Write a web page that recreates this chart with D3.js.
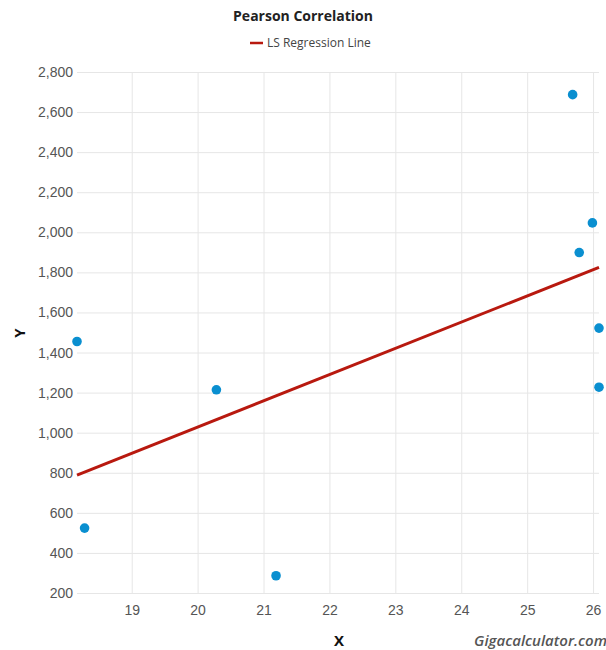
<!DOCTYPE html>
<html><head><meta charset="utf-8">
<script src="https://cdn.jsdelivr.net/npm/d3@7"></script>
<style>body{margin:0;background:#fff}</style>
</head><body>
<svg id="c" width="606" height="650"></svg>
<script>
const xValues = [18.17, 18.285, 20.285, 21.19, 25.69, 25.99, 25.79, 26.09, 26.09];
const yValues = [1455, 524, 1214, 286, 2687, 2047, 1899, 1522, 1227];
const xTicks = [19, 20, 21, 22, 23, 24, 25, 26];
const yTicks = [200, 400, 600, 800, 1000, 1200, 1400, 1600, 1800, 2000, 2200, 2400, 2600, 2800];

const svg = d3.select("#c");
const L = 77, R = 599, T = 72, B = 593;
const x = d3.scaleLinear().domain(d3.extent(xValues)).range([L, R]);
const y = d3.scaleLinear().domain([200, 2800]).range([B, T]);

// grid
const gy = svg.append("g").attr("transform", `translate(${L},0)`)
  .call(d3.axisLeft(y).tickValues(yTicks).tickSize(-(R - L)).tickPadding(4).tickFormat(d3.format(",")));
gy.select(".domain").remove();
gy.selectAll(".tick line").attr("stroke", "#e6e6e6");
gy.selectAll(".tick text").attr("font-family", "Liberation Sans, Arial, sans-serif").attr("font-size", 14).attr("fill", "#555");

const gx = svg.append("g").attr("transform", `translate(0,${B})`)
  .call(d3.axisBottom(x).tickValues(xTicks).tickSize(-(B - T)).tickPadding(12).tickFormat(d3.format("d")));
gx.select(".domain").remove();
gx.selectAll(".tick line").attr("stroke", "#e6e6e6");
gx.selectAll(".tick text").attr("font-family", "Liberation Sans, Arial, sans-serif").attr("font-size", 14).attr("fill", "#555");

// regression
const n = xValues.length;
const mx = d3.mean(xValues), my = d3.mean(yValues);
let sxy = 0, sxx = 0;
for (let i = 0; i < n; i++) { sxy += (xValues[i]-mx)*(yValues[i]-my); sxx += (xValues[i]-mx)**2; }
const slope = sxy / sxx, icpt = my - slope * mx;
const [x0, x1] = d3.extent(xValues);
svg.append("line")
  .attr("x1", x(x0)).attr("y1", y(icpt + slope*x0))
  .attr("x2", x(x1)).attr("y2", y(icpt + slope*x1))
  .attr("stroke", "#b8190f").attr("stroke-width", 3);

svg.append("g").selectAll("circle").data(d3.range(n)).join("circle")
  .attr("cx", i => x(xValues[i])).attr("cy", i => y(yValues[i])).attr("r", 4.8)
  .attr("fill", "#0a8fd0");

// title & legend
svg.append("text").attr("x", 303).attr("y", 21).attr("text-anchor", "middle")
  .attr("font-family", "Open Sans, sans-serif").attr("font-weight", "bold").attr("font-size", 14).attr("fill", "#222")
  .text("Pearson Correlation");
svg.append("line").attr("x1", 250).attr("x2", 263).attr("y1", 43).attr("y2", 43).attr("stroke", "#b8190f").attr("stroke-width", 2.5);
svg.append("text").attr("x", 267).attr("y", 47).attr("font-family", "Open Sans, sans-serif").attr("font-size", 12).attr("fill", "#444")
  .text("LS Regression Line");

svg.append("text").attr("transform", "translate(25,333) rotate(-90)").attr("text-anchor", "middle")
  .attr("font-family", "Open Sans, sans-serif").attr("font-weight", "bold").attr("font-size", 15).attr("fill", "#111").text("Y");
svg.append("text").attr("x", 339).attr("y", 646).attr("text-anchor", "middle")
  .attr("font-family", "Open Sans, sans-serif").attr("font-weight", "bold").attr("font-size", 15).attr("fill", "#111").text("X");
svg.append("text").attr("x", 607).attr("y", 646).attr("text-anchor", "end")
  .attr("font-family", "Open Sans, sans-serif").attr("font-style", "italic").attr("font-weight", 600).attr("font-size", 15).attr("fill", "#555").text("Gigacalculator.com");
</script>
</body></html>
